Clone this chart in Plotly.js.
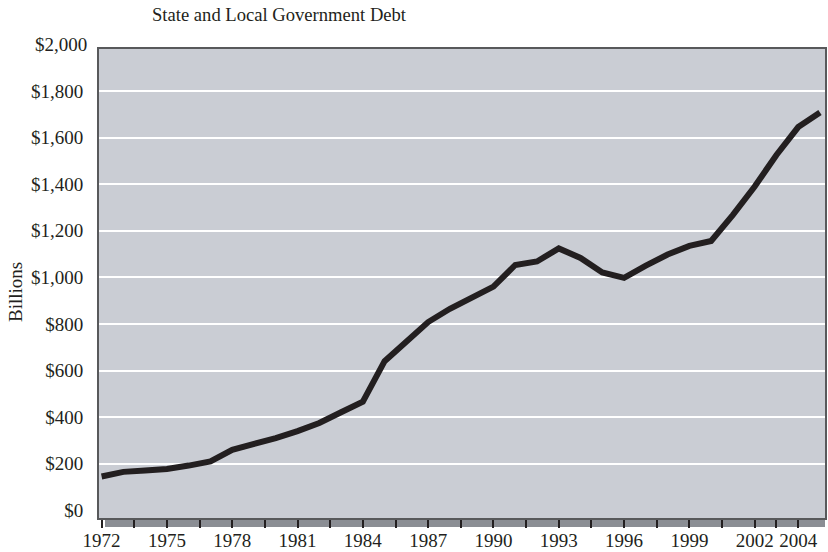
<!DOCTYPE html>
<html>
<head>
<meta charset="utf-8">
<script src="https://cdn.plot.ly/plotly-3.0.1.min.js"></script>
<style>
html, body { margin: 0; padding: 0; background: #ffffff; }
#chart { width: 828px; height: 552px; }
</style>
</head>
<body>
<div id="chart"></div>
<script>
// ---- data ----
const years = [1972, 1973, 1974, 1975, 1976, 1977, 1978, 1979, 1980, 1981,
               1982, 1983, 1984, 1985, 1986, 1987, 1988, 1989, 1990, 1991,
               1992, 1993, 1994, 1995, 1996, 1997, 1998, 1999, 2000, 2001,
               2002, 2003, 2004, 2005];
const debtBillions = [145, 165, 171, 177, 192, 210, 260, 282, 310, 340,
                      375, 421, 466, 640, 720, 808, 865, 913, 960, 1053,
                      1068, 1124, 1083, 1021, 998, 1050, 1098, 1135, 1156, 1268,
                      1390, 1525, 1645, 1707];

const yTickValues = [0, 200, 400, 600, 800, 1000, 1200, 1400, 1600, 1800];
const yTickLabels = ['$0', '$200', '$400', '$600', '$800', '$1,000', '$1,200', '$1,400', '$1,600', '$1,800'];
const yTopLabelValue = 2000;
const yTopLabel = '$2,000';

const xTickValues = [1972, 1973.5, 1975, 1976.5, 1978, 1979.5, 1981, 1982.5, 1984, 1985.5,
                     1987, 1988.5, 1990, 1991.5, 1993, 1994.5, 1996, 1997.5, 1999, 2000.5,
                     2002, 2003, 2004];
const xTickLabels = ['1972', '', '1975', '', '1978', '', '1981', '', '1984', '',
                     '1987', '', '1990', '', '1993', '', '1996', '', '1999', '',
                     '2002', '', '2004'];

const chartTitle = 'State and Local Government Debt';
const yAxisTitle = 'Billions';

// ---- styling ----
const textColor = '#231f20';
const plotBg = '#cacdd4';
const frameColor = '#58595b';
const fontFamily = '"Liberation Serif", "DejaVu Serif", serif';
const tickFontSize = 19;
const yRange = [-33, 1980];
const xRange = [1971.88, 2005.23];

const trace = {
  x: years,
  y: debtBillions,
  type: 'scatter',
  mode: 'lines',
  line: { color: textColor, width: 6 },
  hoverinfo: 'x+y'
};

const layout = {
  width: 828,
  height: 552,
  margin: { l: 99, r: 3, t: 49, b: 34 },
  paper_bgcolor: '#ffffff',
  plot_bgcolor: plotBg,
  showlegend: false,
  font: { family: fontFamily, size: tickFontSize, color: textColor },
  title: {
    text: chartTitle,
    font: { family: fontFamily, size: 18.6, color: textColor },
    xref: 'container', x: 152 / 828, xanchor: 'left',
    yref: 'container', y: 1 - 14 / 552, yanchor: 'middle'
  },
  xaxis: {
    range: xRange,
    tickmode: 'array',
    tickvals: xTickValues,
    ticktext: xTickLabels,
    ticks: 'outside',
    ticklen: 8,
    tickwidth: 2,
    tickcolor: textColor,
    ticklabelstandoff: -4,
    showline: true,
    linecolor: frameColor,
    linewidth: 2,
    mirror: true,
    showgrid: false,
    zeroline: false,
    tickfont: { family: fontFamily, size: tickFontSize, color: textColor }
  },
  yaxis: {
    range: yRange,
    tickmode: 'array',
    tickvals: yTickValues,
    ticktext: yTickLabels,
    ticks: '',
    ticklabelstandoff: 10,
    showline: true,
    linecolor: frameColor,
    linewidth: 2,
    mirror: true,
    showgrid: true,
    gridcolor: '#ffffff',
    gridwidth: 2,
    zeroline: true,
    zerolinecolor: plotBg,
    zerolinewidth: 4,
    tickfont: { family: fontFamily, size: tickFontSize, color: textColor }
  },
  shapes: [
    {
      type: 'rect', layer: 'below',
      xref: 'paper', yref: 'paper',
      x0: 6 / 726, x1: 1, y0: -9 / 469, y1: 0,
      fillcolor: '#8b8e94', line: { width: 0 }
    }
  ],
  annotations: [
    {
      text: yTopLabel,
      xref: 'paper', x: 0, xanchor: 'right', xshift: -10,
      yref: 'paper', y: (yTopLabelValue - yRange[0]) / (yRange[1] - yRange[0]), yanchor: 'middle',
      showarrow: false,
      font: { family: fontFamily, size: tickFontSize, color: textColor }
    },
    {
      text: yAxisTitle,
      textangle: -90,
      xref: 'paper', x: (15 - 99) / 726, xanchor: 'center',
      yref: 'paper', y: (518 - 292) / 469, yanchor: 'middle',
      showarrow: false,
      font: { family: fontFamily, size: tickFontSize, color: textColor }
    }
  ]
};

Plotly.newPlot('chart', [trace], layout, { displayModeBar: false, responsive: false });
</script>
</body>
</html>
